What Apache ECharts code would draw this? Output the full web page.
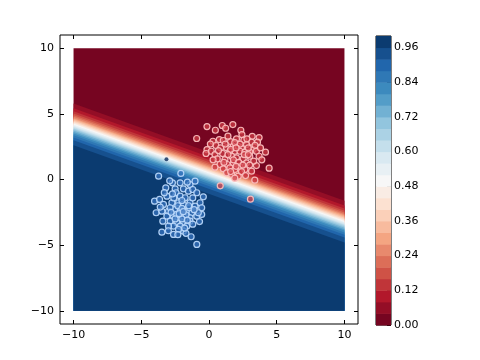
<!DOCTYPE html>
<html>
<head>
<meta charset="utf-8">
<script src="https://cdn.jsdelivr.net/npm/echarts@6/dist/echarts.min.js"></script>
<style>html,body{margin:0;padding:0;background:#fff}#c{width:480px;height:360px}</style>
</head>
<body>
<div id="c"></div>
<script>
// ---- data ----
const xTicks = [-10, -5, 0, 5, 10];
const yTicks = [-10, -5, 0, 5, 10];
const cbTicks = [0, 0.12, 0.24, 0.36, 0.48, 0.60, 0.72, 0.84, 0.96];
const axisRange = [-11, 11];
const fillRange = [-10, 10];
// contour levels of the probability surface
const levels = [0, 0.04, 0.08, 0.12, 0.16, 0.20, 0.24, 0.28, 0.32, 0.36, 0.40, 0.44, 0.48,
  0.52, 0.56, 0.60, 0.64, 0.68, 0.72, 0.76, 0.80, 0.84, 0.88, 0.92, 0.96, 1.0];
// contour line y at x=0 for levels 0.04 .. 0.96 (estimated), lines share one slope
const levelIntercepts = [2.09, 1.72, 1.50, 1.33, 1.19, 1.08, 0.97, 0.88, 0.79, 0.70, 0.62, 0.54,
  0.46, 0.38, 0.30, 0.21, 0.12, 0.03, -0.08, -0.19, -0.33, -0.50, -0.72, -1.09];
const boundarySlope = -0.37;

const redPoints = [
  [-0.15,4.03],[0.47,3.75],[0.98,4.11],[1.23,3.9],[1.76,4.18],[-0.91,3.12],[2.35,3.75],[2.43,3.42],
  [3.19,3.29],[3.7,3.19],[0.29,2.91],[0.76,3.04],[1.05,2.97],[1.59,2.89],[2.03,3.09],[2.57,2.99],
  [3.14,2.84],[3.58,2.84],[-0.15,2.28],[0.17,2.15],[0.51,2.59],[0.86,2.41],[1.3,2.41],[1.79,2.53],
  [2.16,2.53],[2.4,2.41],[2.77,2.66],[3.26,2.28],[4.17,2.08],[-0.22,1.98],[0.44,1.9],[1.0,1.98],
  [1.54,2.15],[1.91,2.15],[2.28,2.15],[2.65,2.08],[3.01,2.08],[3.5,2.15],[0.61,1.57],[1.18,1.52],
  [1.67,1.77],[2.03,1.65],[2.52,1.57],[3.01,1.77],[3.7,1.77],[0.81,1.14],[1.35,1.14],[1.79,1.27],
  [2.28,1.01],[2.77,1.27],[3.5,1.06],[0.44,0.94],[1.05,0.81],[1.54,0.89],[1.91,0.76],[2.65,0.76],
  [3.14,0.63],[4.44,0.86],[1.3,0.51],[1.67,0.38],[2.16,0.25],[3.38,-0.05],[0.83,-0.48],[3.06,-1.5],
  [1.2,2.7],[1.9,2.8],[2.3,2.7],[2.9,2.4],[1.6,2.3],[2.0,2.4],[2.6,1.9],[2.9,1.9],[1.4,1.9],
  [1.8,1.5],[2.2,1.3],[2.5,1.1],[3.3,1.4],[1.1,1.3],[0.7,2.2],[2.0,1.0],[2.4,0.6],[1.6,0.6],
  [3.0,1.1],[3.9,1.5],[3.4,2.6],[2.8,3.1],[1.4,3.3],[0.3,1.5],[0.1,2.7],[3.8,2.4],[2.7,0.3],[1.9,0.1]
];
const bluePoints = [
  [-3.72,0.25],[-2.08,0.46],[-2.7,-0.25],[-2.13,-0.25],[-1.4,-0.38],[-1.03,-0.13],[-3.19,-0.63],
  [-2.5,-0.71],[-1.89,-0.71],[-1.52,-0.89],[-1.2,-0.76],[-4.02,-1.65],[-3.65,-1.52],[-3.11,-1.27],
  [-2.43,-1.01],[-2.13,-1.27],[-1.76,-1.39],[-0.9,-1.01],[-0.42,-1.32],[-3.36,-1.9],[-2.74,-1.77],
  [-2.25,-1.77],[-1.89,-1.9],[-1.4,-1.77],[-1.03,-2.03],[-0.66,-1.77],[-3.9,-2.53],[-3.48,-2.41],
  [-2.99,-2.41],[-2.5,-2.28],[-2.13,-2.41],[-1.64,-2.41],[-1.27,-2.53],[-0.54,-2.15],[-3.11,-2.79],
  [-2.62,-2.79],[-2.25,-2.91],[-1.89,-2.79],[-1.4,-2.91],[-0.9,-2.79],[-0.54,-2.66],[-3.41,-3.17],
  [-2.87,-3.17],[-2.38,-3.29],[-1.89,-3.29],[-1.4,-3.17],[-2.62,-3.55],[-2.13,-3.55],[-1.64,-3.55],
  [-3.48,-4.01],[-2.62,-4.18],[-1.89,-3.93],[-1.32,-4.36],[-0.9,-4.94],[-2.25,-3.8],[-2.99,-3.55],
  [-2.87,-2.15],[-1.45,-2.15],[-0.79,-2.53],[-2.38,-2.66],
  [-2.3,-2.0],[-2.0,-2.2],[-1.7,-2.7],[-2.5,-3.0],[-2.0,-3.0],[-1.6,-3.1],[-2.2,-2.6],[-1.9,-2.45],
  [-2.6,-1.4],[-2.0,-1.6],[-1.5,-2.0],[-2.8,-2.5],[-1.2,-3.4],[-2.3,-4.2],[-1.7,-4.1],[-3.3,-1.0],
  [-1.2,-1.4],[-2.9,-0.1],[-1.6,-0.2],[-3.0,-3.9],[-1.8,-3.7],[-2.7,-1.1],[-0.7,-3.2],[-1.1,-2.3],[-3.6,-2.1]
];
const darkPoints = [[-3.14, 1.55]];

// ---- RdBu colormap ----
const rdbu = ['#67001f','#b2182b','#d6604d','#f4a582','#fddbc7','#f7f7f7','#d1e5f0','#92c5de','#4393c3','#2166ac','#053061'];
function hex2rgb(h){return [1,3,5].map(i=>parseInt(h.substr(i,2),16));}
function cmap(t){
  t = Math.max(0, Math.min(1, t));
  const p = t * (rdbu.length - 1), i = Math.min(Math.floor(p), rdbu.length - 2), f = p - i;
  const a = hex2rgb(rdbu[i]), b = hex2rgb(rdbu[i + 1]);
  const c = a.map((v, j) => Math.round(v + (b[j] - v) * f));
  return 'rgb(' + c.join(',') + ')';
}
const bandColors = [];
for (let k = 0; k < levels.length - 1; k++) bandColors.push(cmap((levels[k] + levels[k + 1]) / 2));
const bandIndex = bandColors.map((c, k) => [k]);

const minus = v => String(v).replace('-', '\u2212');
const font = 'DejaVu Sans';
const lblStyle = {color: '#000', fontFamily: font, fontSize: 11};
const noLine = {show: false, onZero: false};

const chart = echarts.init(document.getElementById('c'), null, {renderer: 'canvas'});
chart.setOption({
  animation: false,
  backgroundColor: '#fff',
  grid: [
    {left: 60, top: 35, width: 298, height: 289, show: true, borderColor: '#000', borderWidth: 1, backgroundColor: '#fff'},
    {left: 376, top: 36, width: 15, height: 289, show: true, borderColor: '#000', borderWidth: 1}
  ],
  xAxis: [
    {type: 'value', gridIndex: 0, min: axisRange[0], max: axisRange[1], position: 'bottom',
     axisLine: noLine, splitLine: {show: false},
     axisTick: {inside: true, length: 4, customValues: xTicks, lineStyle: {color: '#000'}},
     axisLabel: Object.assign({customValues: xTicks, formatter: minus, margin: 6}, lblStyle)},
    {type: 'value', gridIndex: 0, min: axisRange[0], max: axisRange[1], position: 'top',
     axisLine: noLine, splitLine: {show: false}, axisLabel: {show: false},
     axisTick: {inside: true, length: 4, customValues: xTicks, lineStyle: {color: '#000'}}},
    {type: 'value', gridIndex: 1, min: 0, max: 1, show: false, axisLine: noLine}
  ],
  yAxis: [
    {type: 'value', gridIndex: 0, min: axisRange[0], max: axisRange[1], position: 'left',
     axisLine: noLine, splitLine: {show: false},
     axisTick: {inside: true, length: 4, customValues: yTicks, lineStyle: {color: '#000'}},
     axisLabel: Object.assign({customValues: yTicks, formatter: minus, margin: 6}, lblStyle)},
    {type: 'value', gridIndex: 0, min: axisRange[0], max: axisRange[1], position: 'right',
     axisLine: noLine, splitLine: {show: false}, axisLabel: {show: false},
     axisTick: {inside: true, length: 4, customValues: yTicks, lineStyle: {color: '#000'}}},
    {type: 'value', gridIndex: 1, min: 0, max: 1, position: 'right',
     axisLine: noLine, splitLine: {show: false},
     axisTick: {inside: true, length: 4, customValues: cbTicks, lineStyle: {color: '#000'}},
     axisLabel: Object.assign({customValues: cbTicks, formatter: v => Number(v).toFixed(2), margin: 3}, lblStyle)}
  ],
  series: [
    {type: 'custom', xAxisIndex: 0, yAxisIndex: 0, data: bandIndex, z: 1, clip: true, silent: true,
     renderItem: function (params, api) {
       const k = api.value(0), lo = fillRange[0], hi = fillRange[1];
       let pts;
       if (k === 0) pts = [[lo, hi], [hi, hi], [hi, lo], [lo, lo]];
       else {
         const a = levelIntercepts[k - 1];
         pts = [[lo, a + boundarySlope * lo], [hi, a + boundarySlope * hi], [hi, lo], [lo, lo]];
       }
       return {type: 'polygon', shape: {points: pts.map(p => api.coord(p))}, style: {fill: bandColors[k]}};
     }},
    {type: 'custom', xAxisIndex: 2, yAxisIndex: 2, data: bandIndex, z: 1, silent: true,
     renderItem: function (params, api) {
       const k = api.value(0);
       const p0 = api.coord([0, levels[k + 1]]), p1 = api.coord([1, levels[k]]);
       return {type: 'rect', shape: {x: p0[0], y: p0[1], width: p1[0] - p0[0], height: p1[1] - p0[1] + 0.5},
               style: {fill: bandColors[k]}};
     }},
    {type: 'scatter', xAxisIndex: 0, yAxisIndex: 0, data: redPoints, symbolSize: 6, z: 5, silent: true,
     itemStyle: {color: 'rgba(205,60,70,0.75)', borderColor: 'rgba(250,190,190,0.95)', borderWidth: 1.2, opacity: 1}},
    {type: 'scatter', xAxisIndex: 0, yAxisIndex: 0, data: bluePoints, symbolSize: 6, z: 5, silent: true,
     itemStyle: {color: 'rgba(55,115,190,0.75)', borderColor: 'rgba(185,215,250,0.95)', borderWidth: 1.2, opacity: 1}},
    {type: 'scatter', xAxisIndex: 0, yAxisIndex: 0, data: darkPoints, symbolSize: 4, z: 5, silent: true,
     itemStyle: {color: '#0b2a5a'}}
  ]
});
</script>
</body>
</html>
